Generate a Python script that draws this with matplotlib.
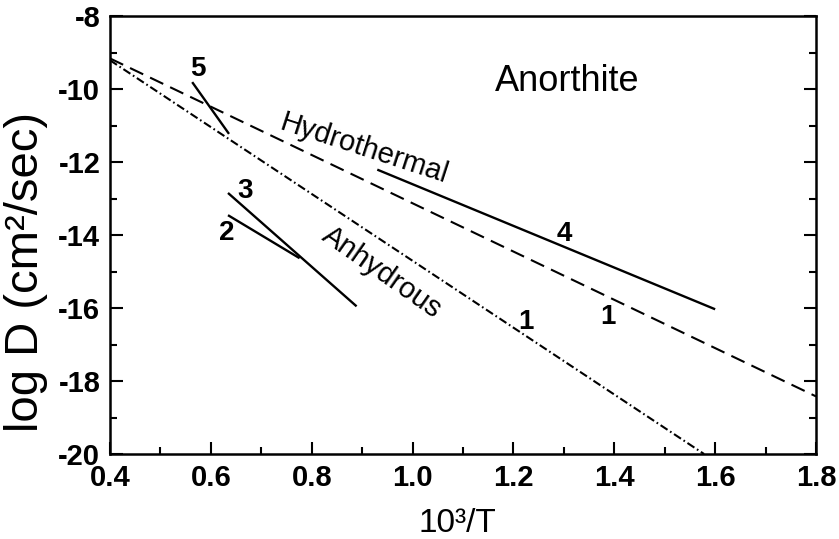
import matplotlib
matplotlib.use("Agg")
import matplotlib.pyplot as plt
from matplotlib.ticker import MultipleLocator

matplotlib.rcParams['font.family'] = ["Liberation Sans", "DejaVu Sans"]
matplotlib.rcParams['axes.unicode_minus'] = False
matplotlib.rcParams['lines.scale_dashes'] = False

# line data (x = 10^3/T, y = log D)
hydro_x = [0.4, 1.8]
hydro_y = [-9.15, -18.42]
anhyd_x = [0.4, 1.578]
anhyd_y = [-9.2, -20.0]
line2_x = [0.634, 0.776]
line2_y = [-13.45, -14.63]
line3_x = [0.634, 0.889]
line3_y = [-12.84, -15.95]
line4_x = [0.93, 1.60]
line4_y = [-12.2, -16.03]
line5_x = [0.563, 0.636]
line5_y = [-9.80, -11.22]

num_labels = ["5", "3", "2", "4", "1", "1"]
num_x = [0.575, 0.668, 0.631, 1.301, 1.225, 1.387]
num_y = [-9.45, -12.8, -13.95, -13.97, -16.38, -16.25]

fig = plt.figure(figsize=(8.39, 5.39), dpi=100)
ax = fig.add_axes([0.1311, 0.1577, 0.8415, 0.8117])

lw = 1.5
ax.plot(hydro_x, hydro_y, color="black", lw=lw, linestyle=(0, (10.5, 5.5)))
ax.plot(anhyd_x, anhyd_y, color="black", lw=lw, linestyle=(0, (6, 2.2, 1.2, 2.2)))
for xs, ys in [(line2_x, line2_y), (line3_x, line3_y), (line4_x, line4_y), (line5_x, line5_y)]:
    ax.plot(xs, ys, color="black", lw=1.7, solid_capstyle="butt")

for lab, x, y in zip(num_labels, num_x, num_y):
    ax.text(x, y, lab, fontsize=20, fontweight="bold", ha="center", va="center")

ax.text(1.307, -9.79, "Anorthite", fontsize=26, ha="center", va="center")
ax.text(0.905, -11.62, "Hydrothermal", fontsize=21, ha="center", va="center",
        rotation=-18, rotation_mode="anchor")
ax.text(0.94, -15.03, "Anhydrous", fontsize=21, ha="center", va="center",
        rotation=-35, rotation_mode="anchor")

ax.set_xlim(0.4, 1.8)
ax.set_ylim(-20, -8)
ax.xaxis.set_major_locator(MultipleLocator(0.2))
ax.xaxis.set_minor_locator(MultipleLocator(0.1))
ax.yaxis.set_major_locator(MultipleLocator(2))
ax.yaxis.set_minor_locator(MultipleLocator(1))
ax.xaxis.set_major_formatter(lambda v, p: "%.1f" % v)
ax.yaxis.set_major_formatter(lambda v, p: "%d" % round(v))

ax.tick_params(which="both", direction="in", top=False, right=True, width=1.5)
ax.tick_params(which="major", length=9, labelsize=21, pad=7)
ax.tick_params(which="minor", length=5)
for t in ax.get_xticklabels() + ax.get_yticklabels():
    t.set_fontweight("bold")
for s in ax.spines.values():
    s.set_linewidth(1.8)

fig.text(0.031, 0.496, "log D (cm²/sec)", fontsize=34, rotation=90, ha="center", va="center")
fig.text(0.545, 0.013, "10³/T", fontsize=24, ha="center", va="baseline")

plt.savefig("out.png", dpi=100)
